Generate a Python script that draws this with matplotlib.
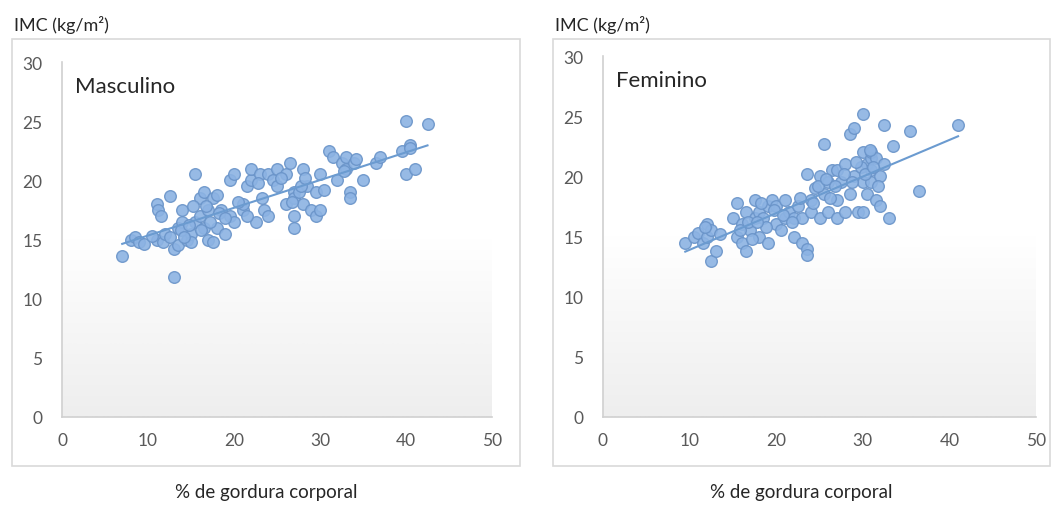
import numpy as np
import matplotlib
matplotlib.use("Agg")
import matplotlib.pyplot as plt
import matplotlib.patches as patches

plt.rcParams['font.family'] = ['Lato', 'DejaVu Sans']

# Masculino: % gordura corporal vs IMC
masc_x = [7, 8, 8.5, 9, 9.5, 11, 11.2, 11.5, 11, 11.8, 12, 12.5, 13, 13, 13.5, 13.5,
          14, 14, 14.5, 15, 15.5, 15, 15.5, 16, 16, 16.5, 16.5, 17, 17, 17.5, 17.5,
          18, 18, 18.5, 19, 19.5, 20, 19.5, 20, 21, 21, 21.5, 22, 22, 22.5, 23,
          23.5, 24, 24, 24.5, 25, 25, 26, 26, 26.5, 27, 27, 27, 27, 27.5, 28, 28,
          28.5, 29, 29.5, 29.5, 30, 30, 31, 31.5, 32, 32.5, 33, 33, 33.5, 33.5,
          34, 35, 36.5, 37, 39.5, 40, 40, 40.5, 41, 42.5, 40.5,
          12.5, 13.8, 14.8, 15.2, 16.2, 16.8, 17.2, 18.2, 19, 20.5, 21.5, 22.8,
          23.2, 25.5, 26.8, 27.8, 28.2, 30.5, 32.8, 34.2, 10.5, 14.2]
masc_y = [13.6, 15, 15.2, 14.8, 14.6, 18, 17.5, 17, 15, 14.8, 15.5, 18.7, 11.8, 14.2,
          14.5, 16, 16.5, 17.5, 15, 15.5, 20.5, 14.8, 16.5, 17, 18.5, 19, 16, 15,
          17.5, 18.5, 14.8, 16, 18.8, 17.5, 15.5, 20, 20.5, 17, 16.5, 17.5, 18,
          19.5, 20, 21, 16.5, 20.5, 17.5, 17, 20.5, 20, 21, 19.5, 18, 20.5, 21.5,
          19, 18.5, 17, 16, 19, 18, 21, 19.5, 17.5, 17, 19, 20.5, 17.5, 22.5, 22,
          20, 21.5, 21, 22, 19, 18.5, 21.5, 20, 21.5, 22, 22.5, 25, 20.5, 23, 21,
          24.8, 22.7,
          15.2, 15.8, 16.2, 17.8, 15.8, 17.8, 16.5, 17.2, 16.8, 18.2, 17, 19.8,
          18.5, 20.2, 18.2, 19.5, 20.2, 19.2, 20.8, 21.8, 15.3, 15.2]

# Feminino
fem_x = [9.5, 10.5, 11, 11.5, 12, 12, 12.5, 13, 12.5, 13.5, 15, 15.5, 15.5, 16, 16,
         16.5, 16.5, 17, 17.5, 17.5, 18, 18, 18.5, 19, 19, 19.5, 20, 20, 20.5, 21,
         21, 21.5, 22, 22, 22.5, 23, 23, 23.5, 23.5, 23.5, 24, 24, 24.5, 25, 25,
         25.5, 25.5, 26, 26, 26.5, 27, 27, 27, 27.5, 28, 28, 28.5, 28.5, 29, 29,
         29.5, 30, 30, 30, 30, 30.5, 30.5, 31, 31, 31, 31, 31.5, 31.5, 32, 32,
         32.5, 33, 33.5, 32.5, 35.5, 36.5, 41,
         11.8, 15.8, 16.8, 17.2, 18.8, 19.8, 20.8, 21.8, 22.8, 24.2, 24.8, 25.8,
         26.2, 26.8, 27.8, 28.8, 29.8, 30.2, 31.2, 31.8, 30.8, 29.2, 18.2, 17.8]
fem_y = [14.5, 15, 15.3, 14.5, 16, 15, 13, 13.8, 15.5, 15.2, 16.5, 17.8, 15, 14.5,
         16, 13.8, 17, 15.5, 16.5, 18, 17, 15, 16.5, 14.5, 17.5, 18, 16, 17.5,
         15.5, 16.5, 18, 17, 15, 16.5, 17.5, 14.5, 16.5, 14, 13.5, 20.2, 17, 18,
         19, 16.5, 20, 22.7, 18.5, 17, 19.5, 20.5, 18, 16.5, 20.5, 19.5, 17, 21,
         23.5, 18.5, 24, 20, 17, 25.2, 22, 19.5, 17, 21, 18.5, 20.5, 21.5, 22,
         19.5, 21.5, 18, 20, 17.5, 24.3, 16.5, 22.5, 21, 23.8, 18.8, 24.3,
         15.8, 15.5, 16.2, 14.8, 15.8, 17.2, 16.8, 16.2, 18.2, 17.8, 19.2, 19.8,
         18.2, 19.2, 20.2, 19.5, 20.8, 20.2, 20.8, 19.2, 22.2, 21.2, 17.8, 16.2]

titles = ['Masculino', 'Feminino']
x_ticks = [0, 10, 20, 30, 40, 50]
y_ticks = [0, 5, 10, 15, 20, 25, 30]

W, H = 1051, 506
fig = plt.figure(figsize=(W / 100, H / 100), dpi=100)
fig.patch.set_facecolor('white')

# axes rectangles in pixels: left, top, right, bottom
ax_px = [(62, 63, 492, 418), (603, 57, 1036, 418)]
box_px = [(12, 40, 520, 467), (553, 40, 1050, 467)]

grad = np.linspace(0, 1, 256).reshape(-1, 1)
cmap = matplotlib.colors.LinearSegmentedColormap.from_list(
    'bg', ['#ffffff', '#ffffff', '#eeeeee'])

series = [(masc_x, masc_y), (fem_x, fem_y)]
for i, (xs, ys) in enumerate(series):
    l, t, r, b = ax_px[i]
    ax = fig.add_axes([l / W, 1 - b / H, (r - l) / W, (b - t) / H])

    # outer chart box
    bl, bt, br, bb = box_px[i]
    fig.patches.append(patches.Rectangle((bl / W, 1 - bb / H), (br - bl) / W, (bb - bt) / H,
                                         transform=fig.transFigure, fill=False,
                                         edgecolor='#d9d9d9', linewidth=1.2, zorder=0))

    ax.imshow(grad, extent=[0, 50, 0, 30], aspect='auto', cmap=cmap, zorder=0, origin='upper')

    ax.scatter(xs, ys, s=70, facecolor='#8cb3e3', edgecolor='#6a94c9', linewidth=1.0,
               alpha=0.9, zorder=3)

    # linear trend line
    k, c = np.polyfit(xs, ys, 1)
    xl = np.array([min(xs), max(xs)])
    ax.plot(xl, k * xl + c, color='#6b9bd0', linewidth=1.5, zorder=4)

    ax.set_xlim(0, 50)
    ax.set_ylim(0, 30)
    ax.set_xticks(x_ticks)
    ax.set_yticks(y_ticks)
    ax.tick_params(length=0, labelsize=12.5, labelcolor='#595959', pad=11)
    ax.tick_params(axis='y', pad=14)
    for s in ['top', 'right']:
        ax.spines[s].set_visible(False)
    for s in ['left', 'bottom']:
        ax.spines[s].set_color('#d0d0d0')
        ax.spines[s].set_linewidth(1.2)

    ax.text(0.03, 0.96, titles[i], transform=ax.transAxes, fontsize=16,
            color='#262626', va='top', ha='left')

    fig.text((bl + 2) / W, 1 - 25 / H, 'IMC (kg/m²)', fontsize=13, color='#262626',
             va='center', ha='left')
    fig.text(((bl + br) / 2) / W, 1 - 493 / H, '% de gordura corporal', fontsize=13.5,
             color='#262626', va='center', ha='center')

fig.savefig('out.png', dpi=100)
